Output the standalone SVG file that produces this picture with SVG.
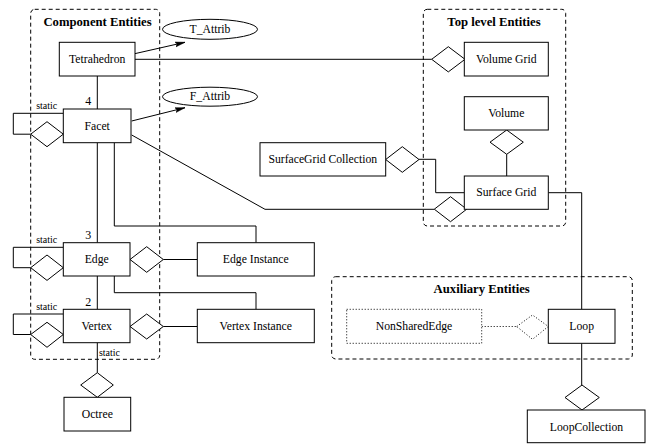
<svg xmlns="http://www.w3.org/2000/svg" width="653" height="444" viewBox="0 0 653 444">
<style>
  .bg{fill:#fff}
  rect.n{fill:#fff;stroke:#000;stroke-width:1}
  text{font-family:'Liberation Serif','Times New Roman',serif}
  .t{font-size:11.7px;fill:#000;text-anchor:middle;dominant-baseline:central}
  .title{font-size:12.7px;font-weight:bold;fill:#000;text-anchor:middle}
  .s{font-size:10px;fill:#000;text-anchor:middle}
  .num{font-size:12px;fill:#000;text-anchor:middle}
  .grp{fill:none;stroke:#000;stroke-width:1;stroke-dasharray:4,3}
  .ln{fill:none;stroke:#000;stroke-width:1}
  .dia{fill:#fff;stroke:#000;stroke-width:1}
  .dot{fill:#fff;stroke:#000;stroke-width:1;stroke-dasharray:1,2}
  .dotln{fill:none;stroke:#000;stroke-width:1;stroke-dasharray:1,2}
</style>
<defs>
  <marker id="arr" viewBox="0 0 10 10" refX="10" refY="5" markerWidth="10" markerHeight="10" markerUnits="userSpaceOnUse" orient="auto">
    <path d="M0,2.5 L10,5 L0,7.5 L2,5 Z" fill="#000" stroke="#000" stroke-width="0.5"/>
  </marker>
</defs>
<rect class="bg" x="0" y="0" width="653" height="444"/>

<g id="groups">
  <rect class="grp" x="30.7" y="9.3" width="129" height="350" rx="4"/>
  <text class="title" x="97.5" y="26">Component Entities</text>
  <rect class="grp" x="423.3" y="9.3" width="142.4" height="216.7" rx="4"/>
  <text class="title" x="494" y="26">Top level Entities</text>
  <rect class="grp" x="331.7" y="276.7" width="300.6" height="82.3" rx="4"/>
  <text class="title" x="481.7" y="292.7">Auxiliary Entities</text>
</g>

<g id="connectors">
  <line class="ln" x1="132" y1="54.3" x2="185" y2="42.3" marker-end="url(#arr)"/>
  <line class="ln" x1="131.7" y1="121" x2="185" y2="107.7" marker-end="url(#arr)"/>
  <polyline class="ln" points="131.7,59.3 431.7,59.3"/>
  <polygon class="dia" points="431.7,59.3 448.3,46.7 465,59.3 448.3,71.9"/>
  <line class="ln" x1="97.3" y1="76" x2="97.3" y2="109"/>
  <text class="num" x="88.3" y="105">4</text>
  <polyline class="ln" points="63.3,113.3 13.3,113.3 13.3,134.2 30.7,134.2"/>
  <polygon class="dia" points="30.7,134.2 47,121.7 63.3,134.2 47,146.7"/>
  <text class="s" x="46.7" y="109.3">static</text>
  <polyline class="ln" points="131.7,135 265,209.3 434.3,209.3"/>
  <polygon class="dia" points="434.3,209.2 450.5,196.7 466.7,209.2 450.5,221.7"/>
  <line class="ln" x1="97.3" y1="142.7" x2="97.3" y2="242.7"/>
  <text class="num" x="88.3" y="239">3</text>
  <polyline class="ln" points="114.3,142.7 114.3,226 256,226 256,242.7"/>
  <polyline class="ln" points="63.3,247.3 13.3,247.3 13.3,267.7 30.7,267.7"/>
  <polygon class="dia" points="30.7,267.7 47,255 63.3,267.7 47,280.4"/>
  <text class="s" x="46.7" y="242.7">static</text>
  <polygon class="dia" points="130,259.5 146.7,246.7 163.3,259.5 146.7,272.3"/>
  <line class="ln" x1="163.3" y1="259.5" x2="197.3" y2="259.5"/>
  <line class="ln" x1="97.3" y1="276" x2="97.3" y2="309.3"/>
  <text class="num" x="88.3" y="305.7">2</text>
  <polyline class="ln" points="114.3,276 114.3,292.7 256,292.7 256,309.3"/>
  <polyline class="ln" points="63.3,314 13.3,314 13.3,334.5 30.7,334.5"/>
  <polygon class="dia" points="30.7,334.5 47,322.3 63.3,334.5 47,347.3"/>
  <text class="s" x="46.7" y="310">static</text>
  <polygon class="dia" points="130,326.5 146.7,314 163.3,326.5 146.7,339"/>
  <line class="ln" x1="163.3" y1="326.5" x2="197.3" y2="326.5"/>
  <line class="ln" x1="97.3" y1="342.7" x2="97.3" y2="372.7"/>
  <polygon class="dia" points="80.7,385 97.3,372.7 113.3,385 97.3,397.3"/>
  <text class="s" x="109.5" y="355.7">static</text>
  <polygon class="dia" points="490,142.2 506.7,130 523.3,142.2 506.7,154.3"/>
  <line class="ln" x1="506.7" y1="154.3" x2="506.7" y2="176"/>
  <polygon class="dia" points="385.7,159.5 402.3,146.7 419,159.5 402.3,172.3"/>
  <polyline class="ln" points="419,159.3 435.7,159.3 435.7,192.7 464.3,192.7"/>
  <polyline class="ln" points="548.3,192.7 581.7,192.7 581.7,309.3"/>
  <line class="dotln" x1="481.7" y1="326.5" x2="516.7" y2="326.5"/>
  <polygon class="dot" points="516.7,326.5 532.5,315 548.3,326.5 532.5,339.3"/>
  <line class="ln" x1="581.7" y1="343.3" x2="581.7" y2="385"/>
  <polygon class="dia" points="565,397.5 582,385 599.3,397.5 582,410"/>
</g>

<g id="T_Attrib">
  <ellipse cx="210" cy="29.3" rx="47.5" ry="10" fill="#fff" stroke="#000"/>
  <text class="t" x="210" y="29.3">T_Attrib</text>
</g>
<g id="F_Attrib">
  <ellipse cx="210" cy="96.7" rx="47.5" ry="9.5" fill="#fff" stroke="#000"/>
  <text class="t" x="210" y="96.7">F_Attrib</text>
</g>
<g id="Tetrahedron">
  <rect class="n" x="59.3" y="42.3" width="75.7" height="33.7"/>
  <text class="t" x="97.2" y="59.5">Tetrahedron</text>
</g>
<g id="Facet">
  <rect class="n" x="63.3" y="109" width="67.7" height="33.7"/>
  <text class="t" x="97.2" y="126">Facet</text>
</g>
<g id="Edge">
  <rect class="n" x="63.3" y="242.7" width="66.7" height="33.3"/>
  <text class="t" x="96.7" y="259.5">Edge</text>
</g>
<g id="Vertex">
  <rect class="n" x="63.3" y="309.3" width="66.7" height="33.4"/>
  <text class="t" x="96.7" y="326">Vertex</text>
</g>
<g id="Octree">
  <rect class="n" x="64" y="397.3" width="66.7" height="33.7"/>
  <text class="t" x="97.3" y="414.2">Octree</text>
</g>
<g id="EdgeInstance">
  <rect class="n" x="197.3" y="242.7" width="117" height="33.3"/>
  <text class="t" x="255.8" y="259.5">Edge Instance</text>
</g>
<g id="VertexInstance">
  <rect class="n" x="197.3" y="309.3" width="117" height="33.4"/>
  <text class="t" x="255.8" y="326">Vertex Instance</text>
</g>
<g id="VolumeGrid">
  <rect class="n" x="464.3" y="42.3" width="84" height="33.7"/>
  <text class="t" x="506.3" y="59.5">Volume Grid</text>
</g>
<g id="Volume">
  <rect class="n" x="464.3" y="96.7" width="84" height="33.3"/>
  <text class="t" x="506.3" y="113.5">Volume</text>
</g>
<g id="SurfaceGrid">
  <rect class="n" x="464.3" y="176" width="84" height="33.3"/>
  <text class="t" x="506.3" y="192.8">Surface Grid</text>
</g>
<g id="SurfaceGridCollection">
  <rect class="n" x="260" y="142.7" width="125.7" height="33.3"/>
  <text class="t" x="322.8" y="159.5">SurfaceGrid Collection</text>
</g>
<g id="NonSharedEdge">
  <rect class="dot" x="346.7" y="309.3" width="135" height="34"/>
  <text class="t" x="414" y="326.3">NonSharedEdge</text>
</g>
<g id="Loop">
  <rect class="n" x="548.3" y="309.3" width="66.7" height="34"/>
  <text class="t" x="581.7" y="326.3">Loop</text>
</g>
<g id="LoopCollection">
  <rect class="n" x="527.3" y="410" width="117.7" height="32.7"/>
  <text class="t" x="586.5" y="427">LoopCollection</text>
</g>
</svg>
